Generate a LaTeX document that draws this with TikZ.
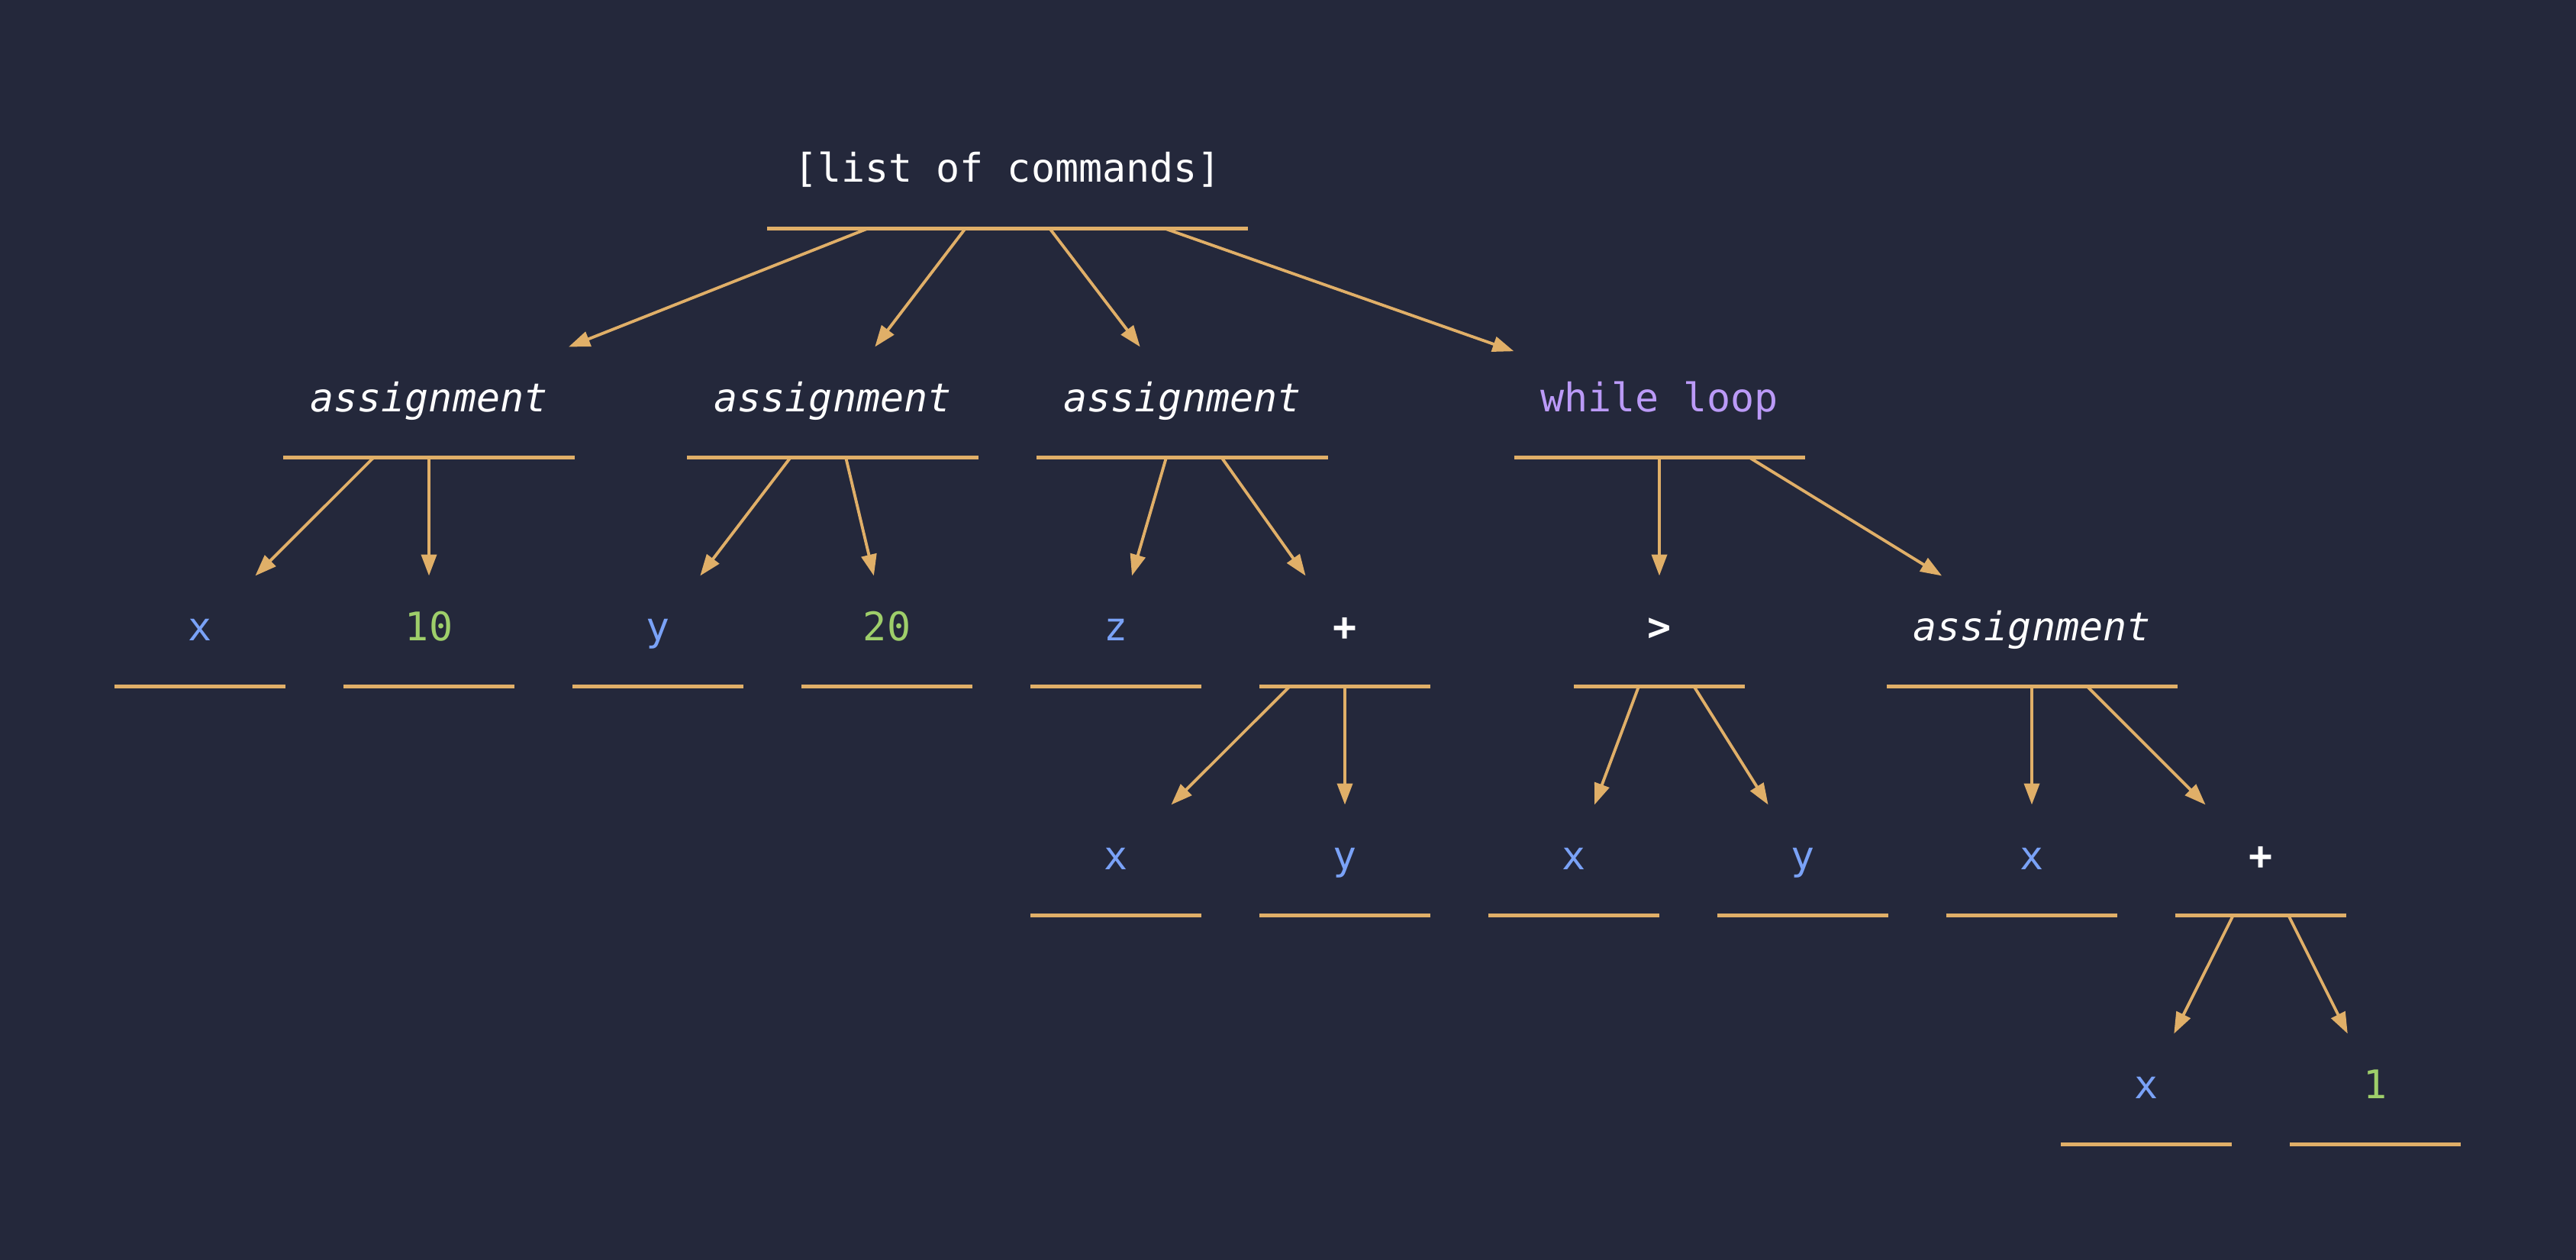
\documentclass[tikz,border=0pt]{standalone}
\usepackage{fontspec}
\setmonofont{DejaVu Sans Mono}
\usepackage{xcolor}
\usepackage{tikz}
\usetikzlibrary{arrows.meta}
\definecolor{bg}{HTML}{24283B}
\definecolor{edgecol}{HTML}{E0AF68}
\definecolor{ident}{HTML}{7AA2F7}
\definecolor{num}{HTML}{9ECE6A}
\definecolor{kw}{HTML}{BB9AF7}
\definecolor{plain}{HTML}{FFFFFF}
\tikzset{
  ast/.style={inner xsep=0.35cm, inner ysep=0pt, outer sep=0pt,
    minimum width=2.24cm, minimum height=1.45cm,
    text height=0.36cm, text depth=0.12cm,
    font=\fontsize{14.7}{17}\selectfont\ttfamily, text=plain},
  stmt/.style={ast, font=\fontsize{14.7}{17}\selectfont\ttfamily\itshape},
  op/.style={ast, font=\fontsize{14.7}{17}\selectfont\ttfamily\bfseries},
  var/.style={ast, text=ident},
  lit/.style={ast, text=num},
  loopkw/.style={ast, text=kw},
  rule/.style={draw=edgecol, line width=1.35pt},
  link/.style={-{Triangle[length=0.28cm,width=0.2cm]}, draw=edgecol, line width=1.1pt}
}
\begin{document}
\begin{tikzpicture}
  \useasboundingbox (0,0) rectangle (33.75,16.5);
  \fill[bg] (-0.1,-0.1) rectangle (33.85,16.6);

  % level 0
  \node[ast] (root) at (13.20,14.23) {[list of commands]};
  % level 1
  \node[stmt] (a1) at (5.62,11.23) {assignment};
  \node[stmt] (a2) at (10.91,11.23) {assignment};
  \node[stmt] (a3) at (15.49,11.23) {assignment};
  \node[loopkw] (wl) at (21.74,11.23) {while loop};
  % level 2
  \node[var] (x1) at (2.62,8.23) {x};
  \node[lit] (n10) at (5.62,8.23) {10};
  \node[var] (y1) at (8.62,8.23) {y};
  \node[lit] (n20) at (11.62,8.23) {20};
  \node[var] (z1) at (14.62,8.23) {z};
  \node[op] (p1) at (17.62,8.23) {+};
  \node[op] (gt) at (21.74,8.23) {>};
  \node[stmt] (a4) at (26.62,8.23) {assignment};
  % level 3
  \node[var] (x2) at (14.62,5.23) {x};
  \node[var] (y2) at (17.62,5.23) {y};
  \node[var] (x3) at (20.62,5.23) {x};
  \node[var] (y3) at (23.62,5.23) {y};
  \node[var] (x4) at (26.62,5.23) {x};
  \node[op] (p2) at (29.62,5.23) {+};
  % level 4
  \node[var] (x5) at (28.12,2.23) {x};
  \node[lit] (n1) at (31.12,2.23) {1};

  \foreach \n in {root,a1,a2,a3,wl,x1,n10,y1,n20,z1,p1,gt,a4,x2,y2,x3,y3,x4,p2,x5,n1}
    \draw[rule] (\n.south west) -- (\n.south east);

  \foreach \p/\c in {root/a1,root/a2,root/a3,root/wl,a1/x1,a1/n10,a2/y1,a2/n20,
      a3/z1,a3/p1,wl/gt,wl/a4,p1/x2,p1/y2,gt/x3,gt/y3,a4/x4,a4/p2,p2/x5,p2/n1}
    \draw[link] (\p) -- (\c);
\end{tikzpicture}
\end{document}
